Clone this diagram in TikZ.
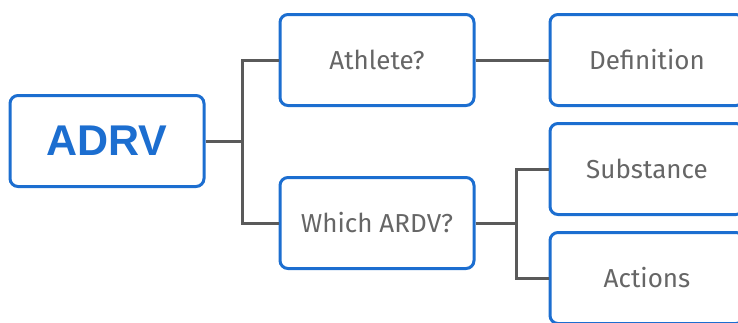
\documentclass[tikz,border=0pt]{standalone}
\usepackage{fontspec}
\setmainfont{Fira Sans}
\newfontfamily\headfont{Liberation Sans}
\usetikzlibrary{positioning}
\definecolor{boxblue}{HTML}{1C6ED0}
\definecolor{linegray}{HTML}{5A5A5A}
\definecolor{textgray}{HTML}{666666}
\tikzset{box/.style={draw=boxblue, line width=3pt, fill=white, rounded corners=8pt,
    minimum width=194pt, minimum height=91pt, inner sep=0pt,
    text=textgray, font=\fontsize{26}{30}\selectfont}}
\tikzset{head/.style={box, text=boxblue, font=\headfont\bfseries\fontsize{43}{48}\selectfont}}
\tikzset{link/.style={draw=linegray, line width=3pt}}

\begin{document}
\begin{tikzpicture}[x=1pt,y=-1pt,node distance=270pt,on grid]
  \useasboundingbox (0,0) rectangle (738,322);
  \clip (0,0) rectangle (738,322);

  \node[head] (adrv) at (107,141) {ADRV};
  \node[box] (athlete) [above right=81pt and 270pt of adrv] {Athlete?};
  \node[box] (which) [below right=82pt and 270pt of adrv] {Which ARDV?};
  \node[box] (defn) [right= of athlete] {Definition};
  \node[box] (subst) [above right=54pt and 270pt of which] {Substance};
  \node[box] (actions) [below right=55pt and 270pt of which] {Actions};

  \draw[link] (adrv.east) -- ++(37,0) coordinate (j1);
  \draw[link] (j1) |- (athlete.west);
  \draw[link] (j1) |- (which.west);
  \draw[link] (athlete) -- (defn);
  \draw[link] (which.east) -- ++(41,0) coordinate (j2);
  \draw[link] (j2) |- (subst.west);
  \draw[link] (j2) |- (actions.west);
\end{tikzpicture}
\end{document}
